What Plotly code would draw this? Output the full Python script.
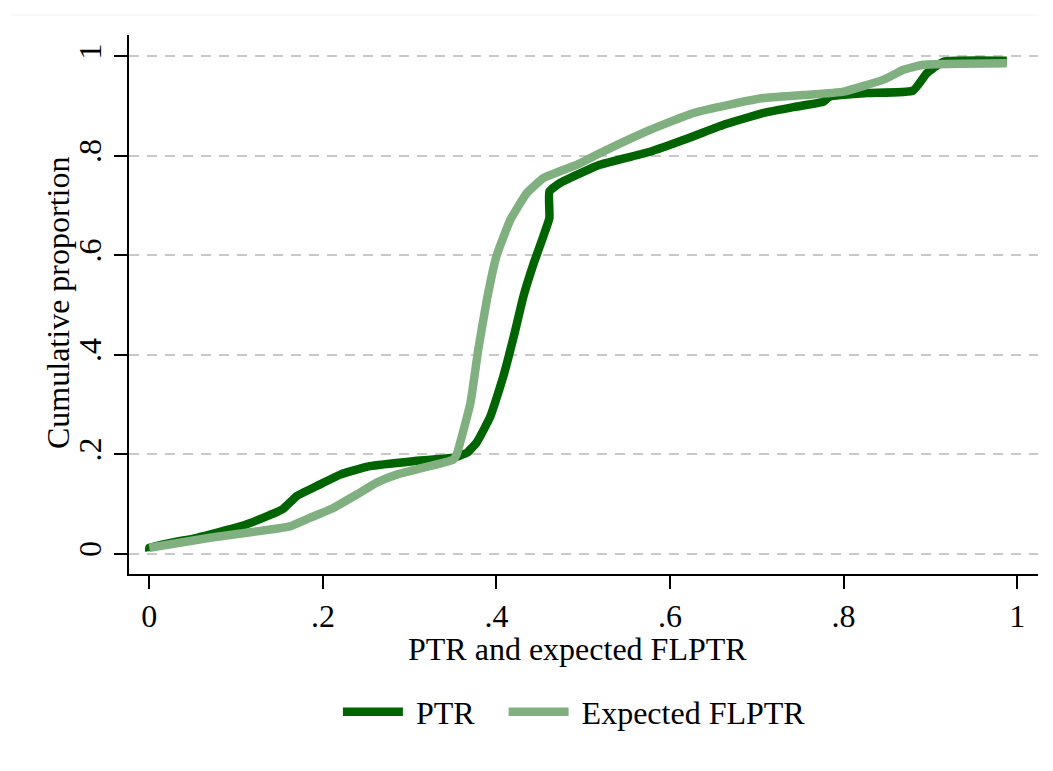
import plotly.graph_objects as go

# PTR cumulative curve
ptr_x = [0.0, 0.0, 0.055, 0.105, 0.131, 0.154, 0.170, 0.193, 0.220, 0.254, 0.304, 0.350,
         0.366, 0.377, 0.393, 0.408, 0.420, 0.431, 0.443, 0.454, 0.461, 0.461, 0.473,
         0.519, 0.577, 0.616, 0.661, 0.708, 0.746, 0.777, 0.784, 0.827, 0.880, 0.896,
         0.915, 0.988]
ptr_y = [0.005, 0.012, 0.032, 0.055, 0.072, 0.090, 0.116, 0.136, 0.159, 0.176, 0.186, 0.193,
         0.203, 0.223, 0.276, 0.357, 0.437, 0.517, 0.584, 0.638, 0.675, 0.728, 0.745,
         0.782, 0.808, 0.832, 0.862, 0.886, 0.899, 0.909, 0.919, 0.926, 0.931, 0.966,
         0.989, 0.991]

# expected FLPTR cumulative curve
exp_x = [0.0, 0.070, 0.112, 0.162, 0.185, 0.212, 0.239, 0.262, 0.285, 0.316, 0.350, 0.354,
         0.370, 0.379, 0.389, 0.400, 0.416, 0.435, 0.454, 0.493, 0.519, 0.577, 0.627,
         0.669, 0.708, 0.754, 0.800, 0.846, 0.869, 0.892, 0.988]
exp_y = [0.012, 0.032, 0.042, 0.055, 0.072, 0.092, 0.119, 0.143, 0.159, 0.173, 0.189, 0.199,
         0.303, 0.410, 0.511, 0.598, 0.671, 0.725, 0.755, 0.782, 0.805, 0.852, 0.886,
         0.903, 0.916, 0.922, 0.929, 0.953, 0.973, 0.983, 0.986]

tick_vals = [0, 0.2, 0.4, 0.6, 0.8, 1]
tick_text = ["0", ".2", ".4", ".6", ".8", "1"]

fnt = dict(family="Liberation Serif, Times New Roman, serif", size=32, color="black")

fig = go.Figure()
fig.add_trace(go.Scatter(x=ptr_x, y=ptr_y, mode="lines", name="&nbsp;PTR&nbsp;&nbsp;&nbsp;",
                         line=dict(color="#006400", width=8.5, shape="spline", smoothing=0.4)))
fig.add_trace(go.Scatter(x=exp_x, y=exp_y, mode="lines", name="&nbsp;Expected FLPTR",
                         line=dict(color="#80b080", width=8.5, shape="spline", smoothing=0.4)))

fig.update_layout(
    width=1053, height=771,
    margin=dict(l=121, r=23, t=27, b=205),
    paper_bgcolor="white", plot_bgcolor="white",
    font=fnt,
    showlegend=True,
    legend=dict(orientation="h", x=0.49, xanchor="center", y=-0.256, yanchor="middle",
                font=fnt, itemwidth=60, bgcolor="rgba(0,0,0,0)"),
)
fig.update_xaxes(
    range=[-0.0234, 1.024], tickvals=tick_vals, ticktext=tick_text,
    showline=True, linecolor="black", linewidth=2,
    ticks="outside", ticklen=13, tickwidth=2, tickcolor="black",
    showgrid=False, zeroline=False,
)
fig.update_yaxes(
    range=[-0.0408, 1.0428], tickvals=tick_vals, ticktext=tick_text, tickangle=-90,
    showline=True, linecolor="black", linewidth=2,
    ticks="outside", ticklen=13, tickwidth=2, tickcolor="black",
    showgrid=True, gridcolor="#c8c8c8", gridwidth=1.5, griddash="10px,8px",
    zeroline=False,
)
# axis titles as annotations for exact placement
fig.add_annotation(text="PTR and expected FLPTR", xref="paper", yref="paper",
                   x=0.493, y=-0.14, xanchor="center", yanchor="middle",
                   showarrow=False, font=fnt)
fig.add_annotation(text="Cumulative proportion", xref="paper", yref="paper",
                   x=-0.078, y=0.503, xanchor="center", yanchor="middle", textangle=-90,
                   showarrow=False, font=fnt)
# faint outer border line at the top
fig.add_shape(type="line", xref="paper", yref="paper", x0=-0.13, x1=1.0, y0=1.037, y1=1.037,
              line=dict(color="#eef2f4", width=1))

fig.write_html("out.html")
